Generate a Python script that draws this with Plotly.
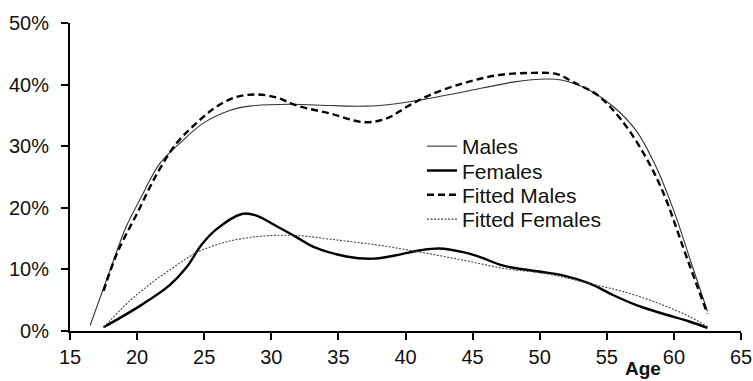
import plotly.graph_objects as go

# Share of each age group (%), by sex, observed and fitted
males_age = [16.5, 18.0, 19.2, 20.2, 21.7, 23.4, 24.9, 26.9, 28.4, 31.4, 34.4, 37.0, 39.3,
             40.8, 44.3, 48.0, 50.5, 51.7, 53.7, 55.5, 57.2, 58.6, 60.0, 61.3, 62.5]
males_pct = [0.9, 10.0, 17.0, 21.3, 27.2, 30.9, 33.7, 35.8, 36.5, 36.8, 36.6, 36.5, 36.9,
             37.4, 38.8, 40.4, 40.9, 40.7, 39.1, 36.4, 32.5, 27.0, 19.5, 11.0, 3.2]

females_age = [17.5, 20.3, 22.45, 23.7, 24.8, 25.9, 27.8, 28.8, 30.4, 31.9, 33.1, 35.6, 37.6,
               39.3, 41.1, 42.5, 44.3, 45.55, 47.3, 49.8, 51.8, 53.75, 55.5, 57.2, 59.2, 61.2, 62.5]
females_pct = [0.6, 4.2, 7.5, 10.4, 14.0, 16.5, 19.0, 18.8, 17.0, 15.2, 13.7, 12.1, 11.75,
               12.3, 13.1, 13.4, 12.8, 12.0, 10.6, 9.7, 9.0, 7.7, 5.8, 4.2, 2.8, 1.5, 0.5]

fit_males_age = [17.5, 18.5, 20.0, 21.5, 22.95, 24.4, 25.9, 27.4, 28.9, 30.4, 31.9, 34.4, 36.9,
                 38.6, 40.1, 41.8, 44.3, 46.8, 49.3, 51.3, 52.5, 54.3, 56.0, 57.7, 59.2, 60.7,
                 61.7, 62.5]
fit_males_pct = [6.5, 12.6, 19.1, 25.6, 30.5, 33.7, 36.4, 38.0, 38.4, 37.9, 36.6, 35.3, 33.9,
                 34.5, 36.4, 38.3, 40.2, 41.5, 41.9, 41.7, 40.4, 38.3, 34.5, 29.0, 22.5, 13.5,
                 7.5, 2.8]

fit_females_age = [17.5, 19.5, 20.5, 21.5, 22.5, 23.5, 24.5, 26.7, 29.3, 31.9, 34.4, 38.1, 41.1,
                   44.3, 47.5, 50.5, 53.75, 56.7, 59.2, 61.2, 62.5]
fit_females_pct = [0.6, 5.0, 6.8, 8.5, 10.0, 11.5, 12.8, 14.5, 15.4, 15.5, 14.9, 13.9, 12.8,
                   11.5, 10.1, 9.3, 7.7, 6.1, 4.2, 2.3, 0.7]

x_ticks = [15, 20, 25, 30, 35, 40, 45, 50, 55, 60, 65]
y_ticks = [0, 10, 20, 30, 40, 50]
y_tick_text = ["0%", "10%", "20%", "30%", "40%", "50%"]

FONT = "Arial, Liberation Sans, sans-serif"
INK = "#111111"

series = [
    ("Males", males_age, males_pct, dict(color="#333333", width=1.1), "legend"),
    ("Females", females_age, females_pct, dict(color="#000000", width=2.4), "legend2"),
    ("Fitted Males", fit_males_age, fit_males_pct,
     dict(color="#000000", width=2.4, dash="7px,4px"), "legend3"),
    ("Fitted Females", fit_females_age, fit_females_pct,
     dict(color="#444444", width=1.1, dash="2px,1.5px"), "legend4"),
]

fig = go.Figure()
for name, xs, ys, line, leg in series:
    fig.add_trace(go.Scatter(
        x=xs, y=ys, name=name, mode="lines",
        line=dict(shape="spline", smoothing=1.0, **line),
        legend=leg,
    ))

# one legend box per entry so the rows sit at fixed heights
leg_rows = [0.599, 0.520, 0.441, 0.362]
leg_common = dict(x=0.5246, xanchor="left", yanchor="middle",
                  bgcolor="rgba(0,0,0,0)", borderwidth=0,
                  font=dict(family=FONT, size=21, color=INK))
legends = {}
for i, yv in enumerate(leg_rows):
    key = "legend" if i == 0 else f"legend{i + 1}"
    legends[key] = dict(y=yv, **leg_common)

axis_common = dict(
    showline=True, linecolor="#000000", linewidth=2,
    ticks="outside", ticklen=7, tickwidth=2, tickcolor="#000000",
    showgrid=False, zeroline=False, automargin=False,
    tickfont=dict(family=FONT, size=20, color=INK),
)

fig.update_layout(
    width=753, height=381,
    margin=dict(l=70, r=12, t=23, b=50, autoexpand=False),
    paper_bgcolor="white", plot_bgcolor="white",
    showlegend=True,
    xaxis=dict(range=[15, 65], tickvals=x_ticks, **axis_common),
    yaxis=dict(range=[0, 50], tickvals=y_ticks, ticktext=y_tick_text,
               ticklabelstandoff=8, **axis_common),
    annotations=[dict(
        text="<b>Age</b>", x=57.7, xref="x", y=-0.122, yref="paper",
        xanchor="center", yanchor="middle", showarrow=False,
        font=dict(family=FONT, size=19, color=INK),
    )],
    **legends,
)

fig.write_html("out.html")
